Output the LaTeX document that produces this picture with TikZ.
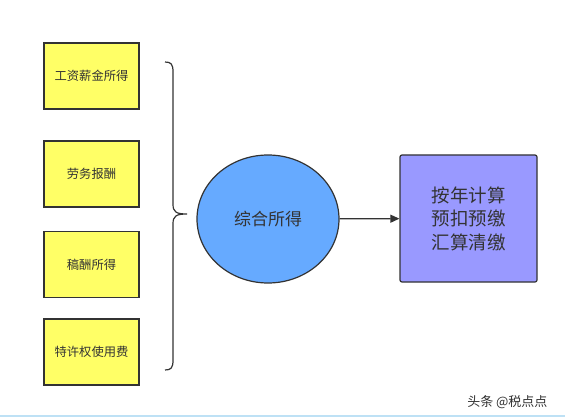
\documentclass[tikz,border=0pt]{standalone}
\usepackage{fontspec}
\setmainfont{Noto Sans CJK SC}
\usetikzlibrary{arrows.meta,shapes.geometric}
\definecolor{boxyellow}{HTML}{FFFF66}
\definecolor{ellblue}{HTML}{66AAFF}
\definecolor{boxpurple}{HTML}{9999FF}
\definecolor{txt}{HTML}{333333}
\definecolor{edge}{HTML}{333333}
\begin{document}
\begin{tikzpicture}[x=1pt,y=-1pt,
  ybox/.style={draw=edge,line width=1.2pt,fill=boxyellow,minimum width=95pt,minimum height=66pt,inner sep=0pt,font=\fontsize{12.3}{14}\selectfont,text=txt},
  ell/.style={ellipse,draw=edge,line width=1.2pt,fill=ellblue,minimum width=142pt,minimum height=128pt,inner sep=0pt,font=\fontsize{17}{19}\selectfont,text=txt},
  pbox/.style={draw=edge,line width=1.2pt,fill=boxpurple,rounded corners=2pt,minimum width=137pt,minimum height=127pt,inner sep=0pt,align=center,font=\fontsize{18.5}{23.5}\selectfont,text=txt},
  conn/.style={draw=edge,line width=1.2pt}]
\useasboundingbox (0,0) rectangle (565,417);
\fill[white] (0,0) rectangle (565,417);
\node[ybox] (b1) at (91.5,76) {工资薪金所得};
\node[ybox] (b2) at (91.5,174) {劳务报酬};
\node[ybox] (b3) at (91.5,264.5) {稿酬所得};
\node[ybox] (b4) at (91.5,352) {特许权使用费};
\coordinate (btop) at (165,62);
\coordinate (btip) at (187,214);
\coordinate (bbot) at (165,370);
\draw[conn] (btop) .. controls (171,62) and (173,64) .. (173,72) -- (173,204)
  .. controls (173,212) and (176,214) .. (btip)
  .. controls (176,214) and (173,216) .. (173,224) -- (173,360)
  .. controls (173,368) and (171,370) .. (bbot);
\node[ell] (e) at (268,219) {综合所得};
\node[pbox] (p) at (468.5,218.5) {按年计算\\预扣预缴\\汇算清缴};
\draw[conn,-{Triangle[length=9pt,width=8pt]}] (e) -- (p);
\node[anchor=east,text=txt,font=\fontsize{13}{15}\selectfont] (wm) at (551,402) {头条 @税点点};
\draw[draw={rgb,255:red,190;green,225;blue,245},line width=1.5pt] (0,416) -- (565,416);
\end{tikzpicture}
\end{document}
